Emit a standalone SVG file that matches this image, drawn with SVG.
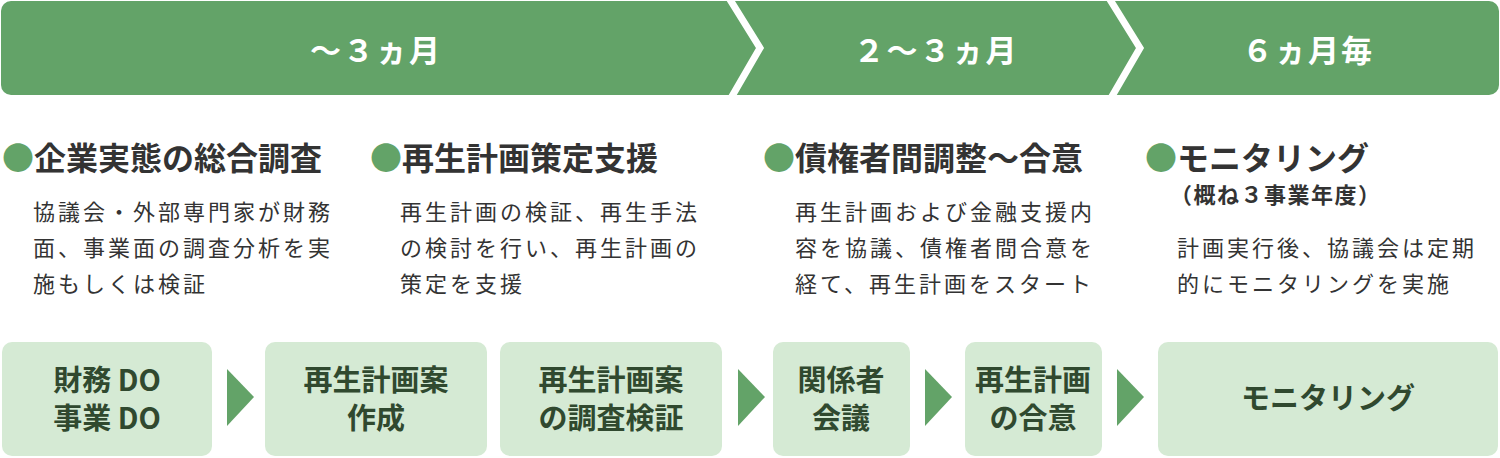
<svg xmlns="http://www.w3.org/2000/svg" width="1500" height="458" viewBox="0 0 1500 458">
<style>
.band{fill:#63a368}
.chev{fill:none;stroke:#fff;stroke-width:7;stroke-linejoin:miter}
.bt{font-family:"Noto Sans CJK JP","Noto Sans",sans-serif;font-weight:700;font-size:31px;fill:#fff;text-anchor:middle;letter-spacing:2px}
.h{font-family:"Noto Sans CJK JP","Noto Sans",sans-serif;font-weight:700;font-size:32px;fill:#333}
.dot{fill:#63a368}
.sub{font-family:"Noto Sans CJK JP","Noto Sans",sans-serif;font-weight:700;font-size:22px;fill:#333;letter-spacing:1.5px}
.b{font-family:"Noto Sans CJK JP","Noto Sans",sans-serif;font-size:22px;fill:#333;letter-spacing:3px}
.box{fill:#d5ead4}
.bx{font-family:"Noto Sans CJK JP","Noto Sans",sans-serif;font-weight:700;font-size:29px;fill:#30492f;text-anchor:middle}
.tri{fill:#63a368}
</style>
<g id="banner">
<rect class="band" x="1" y="1" width="1498" height="94" rx="10"/>
<polyline class="chev" points="729,-2 760,48 731,98"/>
<polyline class="chev" points="1109,-2 1140,48 1111,98"/>
<text class="bt" x="376" y="62">〜３ヵ月</text>
<text class="bt" x="936" y="62">２〜３ヵ月</text>
<text class="bt" x="1308" y="62">６ヵ月毎</text>
</g>
<g id="col1">
<text class="h" x="2" y="170"><tspan class="dot">●</tspan>企業実態の総合調査</text>
<text class="b" x="33" y="220">協議会・外部専門家が財務</text>
<text class="b" x="33" y="256">面、事業面の調査分析を実</text>
<text class="b" x="33" y="292">施もしくは検証</text>
</g>
<g id="col2">
<text class="h" x="370" y="170"><tspan class="dot">●</tspan>再生計画策定支援</text>
<text class="b" x="400" y="220">再生計画の検証、再生手法</text>
<text class="b" x="400" y="256">の検討を行い、再生計画の</text>
<text class="b" x="400" y="292">策定を支援</text>
</g>
<g id="col3">
<text class="h" x="763" y="170"><tspan class="dot">●</tspan>債権者間調整〜合意</text>
<text class="b" x="795" y="220">再生計画および金融支援内</text>
<text class="b" x="795" y="256">容を協議、債権者間合意を</text>
<text class="b" x="795" y="292">経て、再生計画をスタート</text>
</g>
<g id="col4">
<text class="h" x="1145" y="170"><tspan class="dot">●</tspan>モニタリング</text>
<text class="sub" x="1170" y="203">（概ね３事業年度）</text>
<text class="b" x="1177" y="256">計画実行後、協議会は定期</text>
<text class="b" x="1177" y="292">的にモニタリングを実施</text>
</g>
<g id="node-do">
<rect class="box" x="2" y="342" width="210" height="114" rx="10"/>
<text class="bx" x="107" y="391">財務 DO</text>
<text class="bx" x="107" y="429">事業 DO</text>
</g>
<g id="node-plan">
<rect class="box" x="265" y="342" width="222" height="114" rx="10"/>
<text class="bx" x="376" y="391">再生計画案</text>
<text class="bx" x="376" y="429">作成</text>
</g>
<g id="node-review">
<rect class="box" x="500" y="342" width="222" height="114" rx="10"/>
<text class="bx" x="611" y="391">再生計画案</text>
<text class="bx" x="611" y="429">の調査検証</text>
</g>
<g id="node-meeting">
<rect class="box" x="773" y="342" width="137" height="114" rx="10"/>
<text class="bx" x="841" y="391">関係者</text>
<text class="bx" x="841" y="429">会議</text>
</g>
<g id="node-agree">
<rect class="box" x="965" y="342" width="137" height="114" rx="10"/>
<text class="bx" x="1033" y="391">再生計画</text>
<text class="bx" x="1033" y="429">の合意</text>
</g>
<g id="node-monitor">
<rect class="box" x="1158" y="342" width="340" height="114" rx="10"/>
<text class="bx" x="1328" y="409">モニタリング</text>
</g>
<g id="connectors">
<polygon class="tri" points="227,369 254,397 227,426"/>
<polygon class="tri" points="738,369 765,397 738,426"/>
<polygon class="tri" points="925,369 952,397 925,426"/>
<polygon class="tri" points="1117,369 1144,397 1117,426"/>
</g>
</svg>
